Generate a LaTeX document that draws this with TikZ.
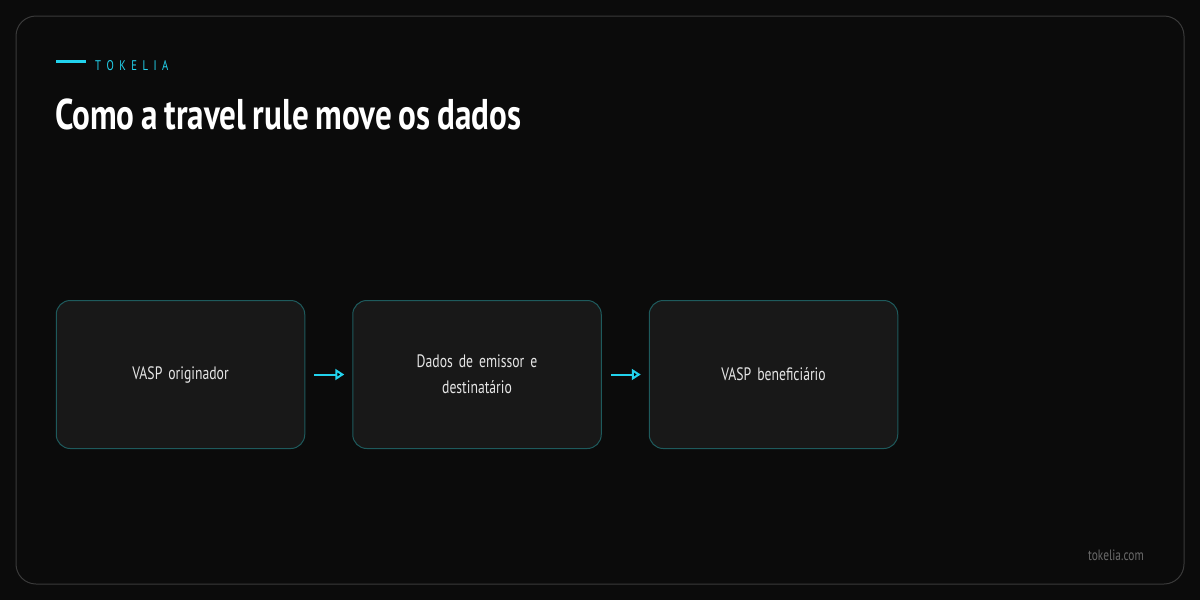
\documentclass[tikz,border=0pt]{standalone}
\usepackage{fontspec}
\setmainfont{PT Sans}[FakeStretch=0.76,WordSpace=0.6]
\newfontfamily\titlefont{PT Sans}[FakeStretch=0.77,WordSpace=0.8]
\usetikzlibrary{positioning,arrows.meta}

\definecolor{bgdark}{HTML}{0B0B0B}
\definecolor{framegray}{HTML}{3A3A3A}
\definecolor{boxfill}{HTML}{181818}
\definecolor{boxline}{HTML}{1E5A5C}
\definecolor{accent}{HTML}{22D3EE}
\definecolor{foottext}{HTML}{6A6A6A}

\tikzset{
  stepbox/.style={draw=boxline, line width=1pt, fill=boxfill, rounded corners=14pt,
    minimum width=248.5pt, minimum height=148pt, text width=200pt, align=center,
    text=white!90!black, font=\fontsize{18}{26}\selectfont, inner sep=0pt},
  flow/.style={-{Triangle[length=9pt,width=11pt]}, draw=accent, line width=2pt,
    shorten <=9pt, shorten >=8pt}
}

\begin{document}
\begin{tikzpicture}[x=1pt,y=-1pt,node distance=47pt]
   \fill[bgdark] (0,0) rectangle (1200,600);
   \useasboundingbox (0,0) rectangle (1200,600);
   \draw[framegray, line width=1pt, fill=bgdark, rounded corners=20pt] (16,16) rectangle (1184,584);
   % header
   \draw[accent, line width=3pt] (56,61) -- (86,61);
   \node[anchor=west, text=accent, font=\fontsize{14}{14}\selectfont, inner sep=0pt] (brand) at (95,66) {T\hspace{5.5pt}O\hspace{5.5pt}K\hspace{5.5pt}E\hspace{5.5pt}L\hspace{5.5pt}I\hspace{5.5pt}A};
   \node[anchor=west, text=white, font=\titlefont\bfseries\fontsize{43}{43}\selectfont, inner sep=0pt] (title) at (55,114) {Como a travel rule move os dados};
   % steps
   \node[stepbox] (orig) at (180.5,374.5) {VASP originador};
   \node[stepbox] (dados) [right=of orig] {Dados de emissor e\\destinatário};
   \node[stepbox] (benef) [right=of dados] {VASP beneficiário};
    \path[flow]
    (orig) edge (dados)
    (dados) edge (benef);
   % footer
   \node[anchor=east, text=foottext, font=\fontsize{15}{15}\selectfont, inner sep=0pt] (site) at (1144,555) {tokelia.com};
\end{tikzpicture}
\end{document}
